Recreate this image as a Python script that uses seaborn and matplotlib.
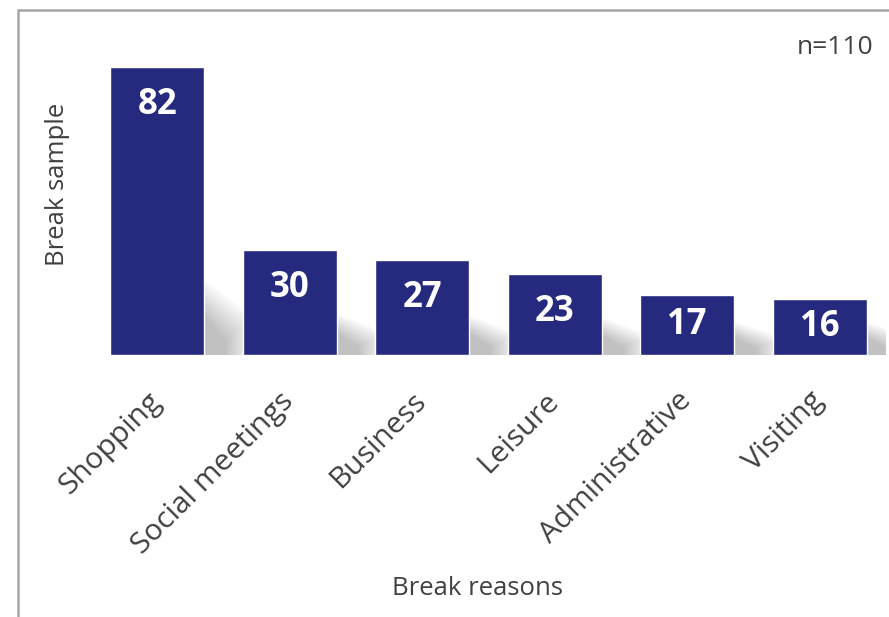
import matplotlib
matplotlib.use("Agg")
import matplotlib.pyplot as plt
import matplotlib.patches as mpatches
import pandas as pd
import seaborn as sns

reasons = ["Shopping", "Social meetings", "Business", "Leisure", "Administrative", "Visiting"]
counts = [82, 30, 27, 23, 17, 16]
sample_note = "n=110"

BAR_COLOR = "#262a7e"
TEXT_COLOR = "#404040"

sns.set_style("white")
plt.rcParams["font.family"] = ["Open Sans", "DejaVu Sans"]

frame = pd.DataFrame({"reason": reasons, "count": counts})

fig = plt.figure(figsize=(8.89, 6.17), dpi=100)
ax = fig.add_axes([0.1024, 0.4246, 0.8942, 0.5122])

sns.barplot(data=frame, x="reason", y="count", color=BAR_COLOR, saturation=1,
            width=0.71, ax=ax, zorder=3)

# soft drop shadow to the right of each bar (stacked translucent layers)
n_layers = 30
for patch, value in zip(ax.patches, counts):
    xr = patch.get_x() + patch.get_width()
    sh = 6 + 0.17 * value
    for k in range(n_layers):
        t = k / n_layers
        grow = 1 - t
        poly = [
            (xr - 0.02, -0.6 * grow),
            (xr - 0.02, sh * (1.1 - 0.5 * t)),
            (xr + 0.38 * (1 - 0.6 * t), sh * (0.55 - 0.35 * t)),
            (xr + 0.38 * (1 - 0.6 * t), -0.6 * grow),
        ]
        ax.add_patch(mpatches.Polygon(poly, closed=True, facecolor="#7a7a7a",
                                      edgecolor="none", alpha=0.017, zorder=1))

# value labels: centred in short bars, a fixed distance below the top otherwise
for patch, value in zip(ax.patches, counts):
    ypos = max(value - 10.8, value / 2)
    ax.text(patch.get_x() + patch.get_width() / 2, ypos, str(value),
            ha="center", va="center", color="white", fontsize=25,
            fontweight="bold", zorder=5)

ax.set_xlim(-0.5, len(reasons) - 0.5)
ax.set_ylim(0, 90)
ax.set_yticks([])
for side in ax.spines.values():
    side.set_visible(False)

ax.tick_params(axis="x", length=0, pad=30, labelsize=21.5, labelcolor=TEXT_COLOR)
for label in ax.get_xticklabels():
    label.set_rotation(45)
    label.set_ha("right")
    label.set_va("center")
    label.set_rotation_mode("anchor")

ax.set_xlabel("Break reasons", fontsize=18.5, color=TEXT_COLOR)
ax.xaxis.set_label_coords(0.486, -0.70)
ax.set_ylabel("Break sample", fontsize=18.5, color=TEXT_COLOR)
ax.yaxis.set_label_coords(-0.026, 0.54)

fig.text(873 / 889, 1 - 47 / 617, sample_note, ha="right", va="center",
         fontsize=19, color=TEXT_COLOR)

# outer chart border (only top and left fall inside the image)
fig.add_artist(mpatches.Rectangle((18 / 889, -0.1), 1.2, 1 - 10 / 617 + 0.1,
                                  transform=fig.transFigure, fill=False,
                                  edgecolor="#a6a6a6", linewidth=1.8,
                                  clip_on=False))

fig.savefig("out.png", dpi=100, facecolor="white")
